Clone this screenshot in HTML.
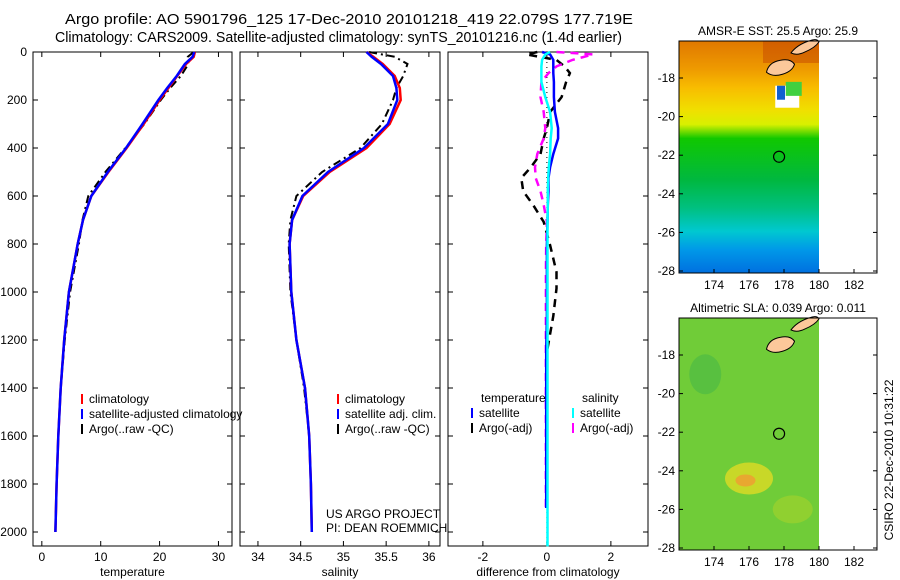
<!DOCTYPE html>
<html><head><meta charset="utf-8"><style>
body{margin:0;background:#fff}
svg{display:block;font-family:"Liberation Sans",sans-serif}
text{font-size:12px;fill:#000}
</style></head><body>
<svg id="fig" width="900" height="580" viewBox="0 0 900 580">
<defs>
<linearGradient id="sstg" x1="0" y1="0" x2="0" y2="1">
<stop offset="0" stop-color="#e07800"/><stop offset="0.12" stop-color="#ee9a00"/>
<stop offset="0.2" stop-color="#f8bc00"/><stop offset="0.3" stop-color="#f0e000"/>
<stop offset="0.36" stop-color="#d8f000"/><stop offset="0.42" stop-color="#10c800"/>
<stop offset="0.6" stop-color="#00b840"/><stop offset="0.72" stop-color="#00c080"/>
<stop offset="0.82" stop-color="#00c8d0"/><stop offset="0.9" stop-color="#0098e8"/>
<stop offset="1" stop-color="#0070e0"/></linearGradient>
</defs>
<g>
<text x="65" y="24" textLength="568" lengthAdjust="spacingAndGlyphs" style="font-size:15px">Argo profile: AO 5901796_125 17-Dec-2010 20101218_419 22.079S 177.719E</text>
<text x="55" y="42" textLength="567" lengthAdjust="spacingAndGlyphs" style="font-size:15px">Climatology: CARS2009. Satellite-adjusted climatology: synTS_20101216.nc (1.4d earlier)</text>
</g>
<g id="panels"></g>
<g id="maps"></g>
<text x="326" y="518">US ARGO PROJECT</text>
<text x="326" y="532">PI: DEAN ROEMMICH</text>
<text transform="translate(893,460) rotate(-90)" text-anchor="middle">CSIRO 22-Dec-2010 10:31:22</text>
</svg>
<script>
const depthTicks=[0,200,400,600,800,1000,1200,1400,1600,1800,2000];
const tempTicks=[0,10,20,30];
const salTicks=[34,34.5,35,35.5,36];
const salTickLabels=["34","34.5","35","35.5","36"];
const diffTicks=[-2,0,2];
// temperature profiles
const tDepth=[0,20,50,100,150,200,300,400,500,600,700,800,1000,1200,1400,1600,1800,2000];
const tClim=[26.0,25.8,24.5,23.0,21.5,20.0,17.3,14.4,11.3,8.4,7.0,6.1,4.6,3.8,3.2,2.8,2.5,2.3];
const tSat=[25.9,25.6,24.3,22.9,21.3,19.8,17.1,14.3,11.2,8.4,7.0,6.1,4.6,3.8,3.2,2.8,2.5,2.3];
const tArgo=[25.8,24.8,24.9,23.6,21.8,20.2,17.4,14.2,10.8,7.9,6.9,6.3,4.8,3.9,3.2,2.8,2.5,2.3];
// salinity profiles
const sDepth=[0,20,50,100,150,200,300,400,500,600,700,800,1000,1200,1400,1600,1800,2000];
const sClim=[35.27,35.35,35.46,35.6,35.66,35.67,35.54,35.27,34.84,34.53,34.4,34.37,34.39,34.45,34.55,34.6,34.62,34.63];
const sSat=[35.27,35.33,35.44,35.58,35.62,35.63,35.52,35.24,34.82,34.52,34.4,34.37,34.39,34.45,34.55,34.6,34.62,34.63];
const sArgo=[35.3,35.6,35.75,35.7,35.62,35.58,35.45,35.2,34.75,34.45,34.38,34.36,34.38,34.45,34.54,34.6,34.62,34.63];
// difference profiles
const dDepth=[0,10,33,60,88,125,188,250,317,360,425,480,525,580,637,708,805,917,985,1100,1250,1500,1900,2060];
const dTempSat=[-0.15,0.1,0.2,0.2,0.2,0.22,0.22,0.25,0.35,0.35,0.2,0.1,0.05,0.05,0.03,0.02,0.0,0.0,0.0,0.0,-0.02,-0.02,-0.02,null];
const dSalSat=[0.1,-0.05,-0.15,-0.17,-0.17,-0.17,-0.05,0.1,0.15,0.12,0.1,0.06,0.04,0.03,0.03,0.02,0.02,0.02,0.02,0.02,0.02,0.02,0.02,0.02];
const dTempArgo=[-0.3,-0.64,0.3,0.55,0.72,0.6,0.46,0.1,0.0,-0.1,-0.2,-0.5,-0.8,-0.74,-0.43,-0.1,0.1,0.3,0.3,0.2,0.0,0.0,null,null];
const dSalArgo=[0.3,1.45,0.8,0.3,0.05,-0.17,-0.2,-0.1,-0.05,-0.1,-0.3,-0.37,-0.35,-0.2,-0.1,0.0,-0.02,-0.03,-0.03,-0.03,-0.03,-0.03,-0.03,null];

const NS='http://www.w3.org/2000/svg';
function mk(tag,attrs,parent){const e=document.createElementNS(NS,tag);for(const k in attrs)e.setAttribute(k,attrs[k]);parent.appendChild(e);return e;}
const Y0=52,YS=0.24,PB=546;
function yD(d){return Y0+d*YS;}
const panels=document.getElementById('panels');
function panel(x0,x1,xmin,xmax,name,ticks,labels,xlabel,showY){
 const g=mk('g',{},panels);
 
 
 const sx=v=>x0+(v-xmin)/(xmax-xmin)*(x1-x0);
 const fr=mk('rect',{x:x0,y:Y0,width:x1-x0,height:PB-Y0,fill:'none',stroke:'#000','stroke-width':1},g);
 
 
 depthTicks.forEach(d=>{
  mk('line',{x1:x0,x2:x0+5,y1:yD(d),y2:yD(d),stroke:'#000'},g);
  mk('line',{x1:x1,x2:x1-5,y1:yD(d),y2:yD(d),stroke:'#000'},g);
  if(showY){const t=mk('text',{x:x0-6,y:yD(d)+4,'text-anchor':'end'},g);t.textContent=d;
   
   }
 });
 ticks.forEach((v,i)=>{
  mk('line',{x1:sx(v),x2:sx(v),y1:PB,y2:PB-5,stroke:'#000'},g);
  mk('line',{x1:sx(v),x2:sx(v),y1:Y0,y2:Y0+5,stroke:'#000'},g);
  const t=mk('text',{x:sx(v),y:PB+15,'text-anchor':'middle'},g);t.textContent=labels[i];
  
  
 });
 const xl=mk('text',{x:(x0+x1)/2,y:PB+30,'text-anchor':'middle'},g);xl.textContent=xlabel;
 
 
 return {g,sx};
}
function line(p,depths,vals,color,w,dash,name){
 let d='',pen=false;
 depths.forEach((z,i)=>{const v=vals[i];if(v===null||v===undefined){pen=false;return;}
  d+=(pen?'L':'M')+p.sx(v).toFixed(1)+','+yD(z).toFixed(1);pen=true;});
 const e=mk('path',{d:d,fill:'none',stroke:color,'stroke-width':w},p.g);
 if(dash)e.setAttribute('stroke-dasharray',dash);
 
 
}
function legend(g,x,y,items){
 items.forEach((it,i)=>{
  const yy=y+i*15;
  const l=mk('line',{x1:x,x2:x,y1:yy-9,y2:yy+1,stroke:it[1],'stroke-width':2},g);
  
  
  const t=mk('text',{x:x+7,y:yy},g);t.textContent=it[0];
  
  
 });
}
// Panel 1
const p1=panel(33,232,-1.5,32.3,'temperature-panel',tempTicks,tempTicks.map(String),'temperature',true);
line(p1,tDepth,tArgo,'#000',2,'8,4,2,4','argo-temperature-line');
line(p1,tDepth,tClim,'#f00',2.5,null,'climatology-temperature-line');
line(p1,tDepth,tSat,'#00f',2.5,null,'satellite-temperature-line');
legend(p1.g,82,403,[['climatology','#f00'],['satellite-adjusted climatology','#00f'],['Argo(..raw -QC)','#000']]);
// Panel 2
const p2=panel(240,440,33.79,36.13,'salinity-panel',salTicks,salTickLabels,'salinity',false);
line(p2,sDepth,sArgo,'#000',2,'8,4,2,4','argo-salinity-line');
line(p2,sDepth,sClim,'#f00',2.5,null,'climatology-salinity-line');
line(p2,sDepth,sSat,'#00f',2.5,null,'satellite-salinity-line');
legend(p2.g,338,403,[['climatology','#f00'],['satellite adj. clim.','#00f'],['Argo(..raw -QC)','#000']]);
// Panel 3
const p3=panel(448,648,-3.09,3.16,'difference-panel',diffTicks,diffTicks.map(String),'difference from climatology',false);
const zl=mk('line',{x1:p3.sx(0),x2:p3.sx(0),y1:Y0,y2:PB,stroke:'#000','stroke-dasharray':'1,4'},p3.g);


line(p3,dDepth,dTempArgo,'#000',2.5,'8,6','argo-temperature-diff');
line(p3,dDepth,dSalArgo,'#f0f',2.5,'8,6','argo-salinity-diff');
line(p3,dDepth,dTempSat,'#00f',2.5,null,'satellite-temperature-diff');
line(p3,dDepth,dSalSat,'#0ff',2.5,null,'satellite-salinity-diff');
[['temperature',481],['salinity',582]].forEach(a=>{const t=mk('text',{x:a[1],y:402},p3.g);t.textContent=a[0];
 
 });
legend(p3.g,472,417,[['satellite','#00f'],['Argo(-adj)','#000']]);
legend(p3.g,573,417,[['satellite','#0ff'],['Argo(-adj)','#f0f']]);

// Maps
const lonTicks=[174,176,178,180,182];
const latTicks=[-18,-20,-22,-24,-26,-28];
const argoLon=177.719, argoLat=-22.079;
const maps=document.getElementById('maps');
function mapPanel(top,name,title,fillFn){
 const g=mk('g',{},maps);
 
 
 const L=679,R=877,B=top+232;
 const mx=lon=>714+(lon-174)*17.5;
 const my=lat=>top+37+(-18-lat)*19.3;
 fillFn(g,mx,my,top,B);
 // land (Fiji)
 const land=mk('path',{d:`M${mx(177.0)},${my(-17.7)} q2,-10 14,-12 q10,-2 14,4 q-2,7 -12,10 q-10,3 -16,-2z M${mx(178.4)},${my(-16.7)} q6,-8 18,-12 q8,-3 10,1 q-4,6 -14,10 q-8,4 -14,1z`,fill:'#fcc89a',stroke:'#000','stroke-width':1},g);
 
 
 const c=mk('circle',{cx:mx(argoLon),cy:my(argoLat),r:5.5,fill:'none',stroke:'#000','stroke-width':1.2},g);
 
 
 const fr=mk('rect',{x:L,y:top,width:R-L,height:B-top,fill:'none',stroke:'#000'},g);
 
 
 lonTicks.forEach(v=>{mk('line',{x1:mx(v),x2:mx(v),y1:B,y2:B-4,stroke:'#000'},g);
  const t=mk('text',{x:mx(v),y:B+16,'text-anchor':'middle'},g);t.textContent=v;
  
  });
 latTicks.forEach(v=>{mk('line',{x1:R,x2:R-4,y1:my(v),y2:my(v),stroke:'#000'},g);
  mk('line',{x1:L,x2:L+4,y1:my(v),y2:my(v),stroke:'#000'},g);
  const t=mk('text',{x:L-4,y:my(v)+4,'text-anchor':'end'},g);t.textContent=v;
  
  });
 const tt=mk('text',{x:(L+R)/2,y:top-6,'text-anchor':'middle'},g);tt.textContent=title;
 
 
}
mapPanel(41,'sst-map','AMSR-E SST: 25.5 Argo: 25.9',(g,mx,my,top,B)=>{
 const r=mk('rect',{x:679,y:top,width:mx(180)-679,height:B-top,fill:'url(#sstg)'},g);
 
 
 mk('rect',{x:mx(176.8),y:top,width:mx(180)-mx(176.8),height:22,fill:'#c04000',opacity:0.45},g);
 mk('rect',{x:mx(177.5),y:my(-18.4),width:24,height:22,fill:'#fff'},g);
 mk('rect',{x:mx(177.6),y:my(-18.4),width:8,height:14,fill:'#1060d0'},g);
 mk('rect',{x:mx(178.1),y:my(-18.2),width:16,height:14,fill:'#40d040'},g);
 mk('rect',{x:mx(180),y:top,width:877-mx(180),height:B-top,fill:'#fff'},g);
});
mapPanel(318,'sla-map','Altimetric SLA: 0.039 Argo: 0.011',(g,mx,my,top,B)=>{
 const r=mk('rect',{x:679,y:top,width:mx(180)-679,height:B-top,fill:'#70cc38'},g);
 
 
 mk('ellipse',{cx:mx(176),cy:my(-24.4),rx:24,ry:16,fill:'#c8d828'},g);
 mk('ellipse',{cx:mx(175.8),cy:my(-24.5),rx:10,ry:6,fill:'#e8a830'},g);
 mk('ellipse',{cx:mx(173.5),cy:my(-19),rx:16,ry:20,fill:'#58c040'},g);
 mk('ellipse',{cx:mx(178.5),cy:my(-26),rx:20,ry:14,fill:'#90d030'},g);
 mk('rect',{x:mx(180),y:top,width:877-mx(180),height:B-top,fill:'#fff'},g);
});
</script>
</body></html>
